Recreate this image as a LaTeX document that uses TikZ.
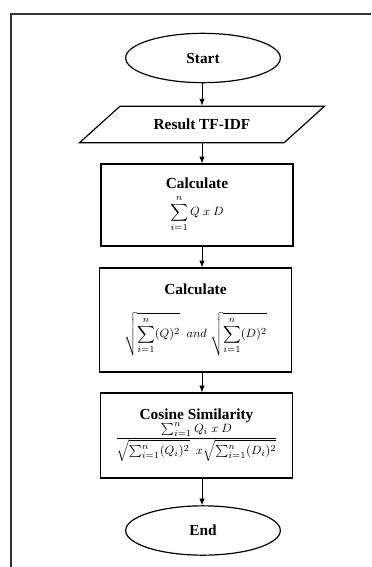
\documentclass[tikz,border=0pt]{standalone}
\usepackage{amsmath}
\usepackage{fontspec}
\setmainfont{Liberation Serif}
\usetikzlibrary{shapes.geometric,arrows.meta}

\newcommand{\mathsize}{\fontsize{9.5}{11}\selectfont}

\begin{document}
\begin{tikzpicture}[x=0.75pt, y=-0.75pt, >={Latex[length=5pt,width=4pt]},
  every node/.style={font=\fontsize{11.5}{13}\selectfont\bfseries},
  terminal/.style={draw, ellipse, line width=0.9pt, minimum width=116pt, minimum height=37pt},
  io/.style={draw, trapezium, trapezium left angle=37, trapezium right angle=143,
    trapezium stretches=true, line width=0.9pt, minimum width=184pt, minimum height=27.5pt},
  process/.style={draw, rectangle, line width=0.9pt, minimum width=144pt, align=center},
  flow/.style={->, line width=0.6pt}]
  \useasboundingbox (0,0) rectangle (371,567);

  % frame of the table cell
  \draw[line width=1.1pt, black!80] (11,567) -- (11,14) -- (371,14);

  \node[terminal] (start) at (203,58) {Start};
  \node[io] (tfidf) at (202,124.5) {Result TF-IDF};
  \node[process, minimum height=61.5pt] (dot) at (197,205)
    {Calculate\\[4pt] {\mathsize$\displaystyle\sum_{i=1}^{n} Q\ x\ D$}};
  \node[process, minimum height=78pt] (norm) at (195.5,320)
    {Calculate\\[12pt] {\mathsize$\displaystyle\sqrt{\sum_{i=1}^{n}(Q)^2}\ \ and\ \sqrt{\sum_{i=1}^{n}(D)^2}$}};
  \node[process, minimum height=63.75pt] (cosine) at (196.5,435.5)
    {Cosine Similarity\\[-1pt] {\mathsize$\dfrac{\sum\nolimits_{i=1}^{n} Q_i\ x\ D}{\sqrt{\sum\nolimits_{i=1}^{n}(Q_i)^2}\ \ x\sqrt{\sum\nolimits_{i=1}^{n}(D_i)^2}}$}};
  \node[terminal] (end) at (203,530.5) {End};

  \coordinate (axis) at (202,0);
  \draw[flow] (start.south -| axis) -- (tfidf.north -| axis);
  \draw[flow] (tfidf.south -| axis) -- (dot.north -| axis);
  \draw[flow] (dot.south -| axis) -- (norm.north -| axis);
  \draw[flow] (norm.south -| axis) -- (cosine.north -| axis);
  \draw[flow] (cosine.south -| axis) -- (end.north -| axis);
\end{tikzpicture}
\end{document}
